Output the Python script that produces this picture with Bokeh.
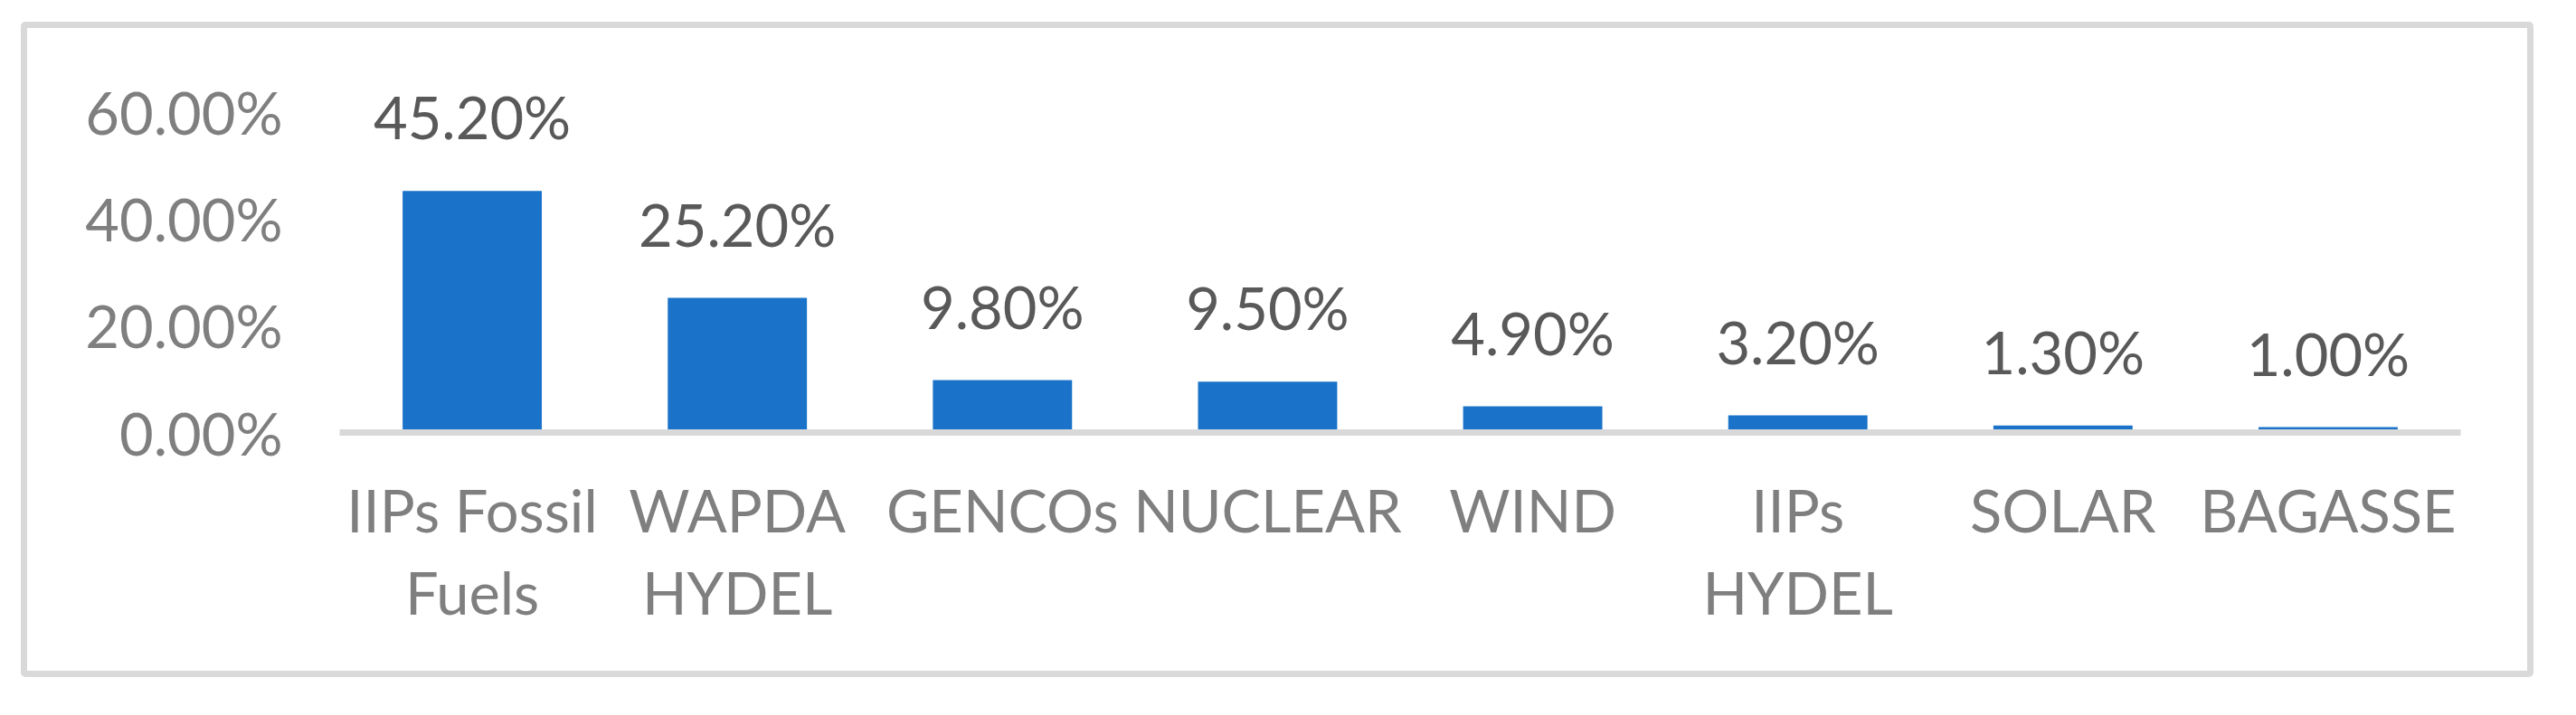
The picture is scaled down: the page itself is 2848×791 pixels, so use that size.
from bokeh.plotting import figure
from bokeh.models import ColumnDataSource, LabelSet, FixedTicker, PrintfTickFormatter
from bokeh.core.properties import value
from bokeh.embed import file_html
from bokeh.resources import INLINE

categories = ["IIPs Fossil\nFuels", "WAPDA\nHYDEL", "GENCOs", "NUCLEAR", "WIND",
              "IIPs\nHYDEL", "SOLAR", "BAGASSE"]
shares = [45.2, 25.2, 9.8, 9.5, 4.9, 3.2, 1.3, 1.0]
y_ticks = [0, 20, 40, 60]

labels = [f"{v:.2f}%" for v in shares]
src = ColumnDataSource(dict(cat=categories, val=shares, lab=labels))

FONT = "Lato"

p = figure(x_range=categories, y_range=(0, 68), width=2764, height=711,
           output_backend="svg", toolbar_location=None,
           min_border_left=345, min_border_right=88,
           min_border_top=45, min_border_bottom=278)
p.styles = {"box-sizing": "content-box",
            "border": "7px solid #D9D9D9", "border-radius": "5px",
            "margin-left": "23px", "margin-top": "24px"}
p.background_fill_color = "white"
p.border_fill_color = "white"
p.outline_line_color = None
p.xgrid.grid_line_color = None
p.ygrid.grid_line_color = None

p.vbar(x="cat", top="val", width=0.525, source=src,
       fill_color="#1A73C8", line_color=None)

# y axis
p.yaxis.ticker = FixedTicker(ticks=y_ticks)
p.yaxis.formatter = PrintfTickFormatter(format="%.2f%%")
p.yaxis.axis_line_color = None
p.yaxis.major_tick_line_color = None
p.yaxis.minor_tick_line_color = None
p.yaxis.major_tick_out = 0
p.yaxis.major_label_standoff = 63
p.yaxis.major_label_text_font = FONT
p.yaxis.major_label_text_font_size = "65px"
p.yaxis.major_label_text_color = "#7F7F7F"

# x axis
p.xaxis.axis_line_color = "#D9D9D9"
p.xaxis.axis_line_width = 7
p.xaxis.major_tick_line_color = None
p.xaxis.minor_tick_line_color = None
p.xaxis.major_tick_out = 0
p.xaxis.major_label_standoff = 46
p.xaxis.major_label_text_font = FONT
p.xaxis.major_label_text_font_size = "65px"
p.xaxis.major_label_text_color = "#7F7F7F"
p.xaxis.major_label_text_line_height = 1.17

# data labels
p.add_layout(LabelSet(x="cat", y="val", text="lab", source=src,
                      text_align="center", text_baseline="middle", y_offset=82,
                      text_font=value(FONT), text_font_size=value("65px"),
                      text_color="#595959"))

open("out.html", "w").write(file_html(p, INLINE))
